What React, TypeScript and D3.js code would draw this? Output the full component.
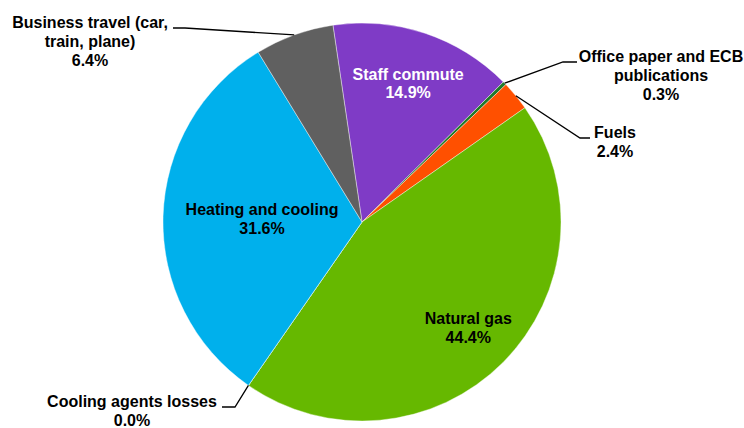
import React from 'react';
import * as d3 from 'd3';

// Slice data (clockwise from the first slice)
const categories = [
  'Staff commute',
  'Office paper and ECB publications',
  'Fuels',
  'Natural gas',
  'Cooling agents losses',
  'Heating and cooling',
  'Business travel (car, train, plane)',
];
const shares = [14.9, 0.3, 2.4, 44.4, 0.0, 31.6, 6.4];
const colors = ['#7f3bc6', '#1f7a2a', '#ff5000', '#66b800', '#00b0ec', '#00b0ec', '#606060'];

// label text lines per slice
const labelLines = [
  ['Staff commute'],
  ['Office paper and ECB', 'publications'],
  ['Fuels'],
  ['Natural gas'],
  ['Cooling agents losses'],
  ['Heating and cooling'],
  ['Business travel (car,', 'train, plane)'],
];

const W = 744;
const H = 428;
const cx = 362;
const cy = 222;
const R = 199;
const startDeg = -8.4;
const fs = 16;
const lh = 18.8;

// label layout: inside labels use a radius, outside labels use elbow/end/text (first baseline) offsets
type Inside = { kind: 'in'; r: number; color: string };
type Outside = { kind: 'out'; elbow: [number, number]; end: [number, number]; text: [number, number] };
const labelLayout: (Inside | Outside)[] = [
  { kind: 'in', r: 146, color: '#ffffff' },
  { kind: 'out', elbow: [201, -160], end: [215, -160], text: [299, -160] },
  { kind: 'out', elbow: [218, -84], end: [228, -84], text: [253, -84] },
  { kind: 'in', r: 150, color: '#000000' },
  { kind: 'out', elbow: [-127, 185], end: [-140, 185], text: [-230, 185] },
  { kind: 'in', r: 100, color: '#000000' },
  { kind: 'out', elbow: [-177, -194], end: [-189, -194], text: [-272, -194] },
];

const font = "'Liberation Sans', Arial, Helvetica, sans-serif";

export default function App() {
  const pie = d3
    .pie<number>()
    .sort(null)
    .value((d) => d)
    .startAngle((startDeg * Math.PI) / 180)
    .endAngle((startDeg * Math.PI) / 180 + 2 * Math.PI);
  const arcs = pie(shares);
  const arc = d3.arc<d3.PieArcDatum<number>>().innerRadius(0).outerRadius(R);

  const polar = (a: number, r: number): [number, number] => [r * Math.sin(a), -r * Math.cos(a)];

  return (
    <svg
      width={W}
      height={H}
      style={{ position: 'absolute', left: 0, top: 0, background: '#fff' }}
      fontFamily={font}
    >
      <g transform={`translate(${cx},${cy})`}>
        {arcs.map((a, i) => (
          <path key={i} d={arc(a) || ''} fill={colors[i]} stroke="#ffffff" strokeWidth={0.4} />
        ))}
        {arcs.map((a, i) => {
          const mid = (a.startAngle + a.endAngle) / 2;
          const lay = labelLayout[i];
          const lines = [...labelLines[i], `${shares[i].toFixed(1)}%`];
          if (lay.kind === 'in') {
            const [x, y] = polar(mid, lay.r);
            const y0 = y - ((lines.length - 1) * lh) / 2;
            return (
              <text
                key={'l' + i}
                textAnchor="middle"
                fontSize={fs}
                fontWeight="bold"
                fill={lay.color}
              >
                {lines.map((t, j) => (
                  <tspan key={j} x={x} y={y0 + j * lh + 5.5}>
                    {t}
                  </tspan>
                ))}
              </text>
            );
          }
          const p = polar(mid, R);
          const path = d3.line()([p, lay.elbow, lay.end]) || '';
          return (
            <g key={'l' + i}>
              <path d={path} fill="none" stroke="#000" strokeWidth={1.3} />
              <text textAnchor="middle" fontSize={fs} fontWeight="bold" fill="#000">
                {lines.map((t, j) => (
                  <tspan key={j} x={lay.text[0]} y={lay.text[1] + j * lh}>
                    {t}
                  </tspan>
                ))}
              </text>
            </g>
          );
        })}
      </g>
    </svg>
  );
}
